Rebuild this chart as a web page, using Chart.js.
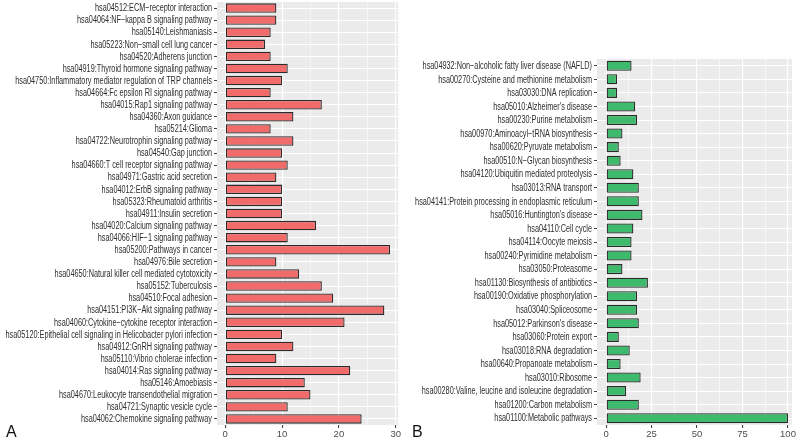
<!DOCTYPE html>
<html>
<head>
<meta charset="utf-8">
<script src="https://cdn.jsdelivr.net/npm/chart.js@4/dist/chart.umd.min.js"></script>
<style>
  body { margin: 0; background: #fff; }
  #wrap { position: relative; width: 800px; height: 443px; overflow: hidden; }
  .panel { position: absolute; top: 0; height: 443px; }
  .tag { position: absolute; font-family: "Liberation Sans", Arial, sans-serif; font-size: 16px; color: #111; }
</style>
</head>
<body>
<div id="wrap">
  <div class="panel" style="left:0;width:402px"><canvas id="chart-a"></canvas></div>
  <div class="panel" style="left:400px;width:400px"><canvas id="chart-b"></canvas></div>
  <div class="tag" style="left:6px;top:423px">A</div>
  <div class="tag" style="left:412px;top:423px">B</div>
</div>
<script>
// Panel A: pathways, top to bottom
const pathwaysA = [
    'hsa04512:ECM\u2212receptor interaction',
    'hsa04064:NF\u2212kappa B signaling pathway',
    'hsa05140:Leishmaniasis',
    'hsa05223:Non\u2212small cell lung cancer',
    'hsa04520:Adherens junction',
    'hsa04919:Thyroid hormone signaling pathway',
    'hsa04750:Inflammatory mediator regulation of TRP channels',
    'hsa04664:Fc epsilon RI signaling pathway',
    'hsa04015:Rap1 signaling pathway',
    'hsa04360:Axon guidance',
    'hsa05214:Glioma',
    'hsa04722:Neurotrophin signaling pathway',
    'hsa04540:Gap junction',
    'hsa04660:T cell receptor signaling pathway',
    'hsa04971:Gastric acid secretion',
    'hsa04012:ErbB signaling pathway',
    'hsa05323:Rheumatoid arthritis',
    'hsa04911:Insulin secretion',
    'hsa04020:Calcium signaling pathway',
    'hsa04066:HIF\u22121 signaling pathway',
    'hsa05200:Pathways in cancer',
    'hsa04976:Bile secretion',
    'hsa04650:Natural killer cell mediated cytotoxicity',
    'hsa05152:Tuberculosis',
    'hsa04510:Focal adhesion',
    'hsa04151:PI3K\u2212Akt signaling pathway',
    'hsa04060:Cytokine\u2212cytokine receptor interaction',
    'hsa05120:Epithelial cell signaling in Helicobacter pylori infection',
    'hsa04912:GnRH signaling pathway',
    'hsa05110:Vibrio cholerae infection',
    'hsa04014:Ras signaling pathway',
    'hsa05146:Amoebiasis',
    'hsa04670:Leukocyte transendothelial migration',
    'hsa04721:Synaptic vesicle cycle',
    'hsa04062:Chemokine signaling pathway',
];
const countsA = [9, 9, 8, 7, 8, 11, 10, 8, 17, 12, 8, 12, 10, 11, 9, 10, 10, 10, 16, 11,
    29, 9, 13, 17, 19, 28, 21, 10, 12, 9, 22, 14, 15, 11, 24];
const ticksA = [0, 10, 20, 30];

// Panel B
const pathwaysB = [
    'hsa04932:Non\u2212alcoholic fatty liver disease (NAFLD)',
    'hsa00270:Cysteine and methionine metabolism',
    'hsa03030:DNA replication',
    "hsa05010:Alzheimer's disease",
    'hsa00230:Purine metabolism',
    'hsa00970:Aminoacyl\u2212tRNA biosynthesis',
    'hsa00620:Pyruvate metabolism',
    'hsa00510:N\u2212Glycan biosynthesis',
    'hsa04120:Ubiquitin mediated proteolysis',
    'hsa03013:RNA transport',
    'hsa04141:Protein processing in endoplasmic reticulum',
    "hsa05016:Huntington's disease",
    'hsa04110:Cell cycle',
    'hsa04114:Oocyte meiosis',
    'hsa00240:Pyrimidine metabolism',
    'hsa03050:Proteasome',
    'hsa01130:Biosynthesis of antibiotics',
    'hsa00190:Oxidative phosphorylation',
    'hsa03040:Spliceosome',
    "hsa05012:Parkinson's disease",
    'hsa03060:Protein export',
    'hsa03018:RNA degradation',
    'hsa00640:Propanoate metabolism',
    'hsa03010:Ribosome',
    'hsa00280:Valine, leucine and isoleucine degradation',
    'hsa01200:Carbon metabolism',
    'hsa01100:Metabolic pathways',
];
const countsB = [14, 6, 6, 16, 17, 9, 7, 8, 15, 18, 18, 20, 15, 14, 14, 9, 23, 17, 17, 18,
    7, 13, 8, 19, 11, 18, 100];
const ticksB = [0, 25, 50, 75, 100];

const panelBg = {
    id: 'panelBg',
    beforeDraw(chart) {
        const a = chart.chartArea;
        const c = chart.ctx;
        c.save();
        c.fillStyle = '#ebebeb';
        c.fillRect(a.left, a.top, a.right - a.left, a.bottom - a.top);
        c.restore();
    }
};

// narrow (condensed) category labels, drawn at the y scale's tick positions
const narrowLabels = {
    id: 'narrowLabels',
    afterDraw(chart) {
        const y = chart.scales.y;
        const c = chart.ctx;
        const right = y.right - 5;
        c.save();
        c.font = '10px "Liberation Sans", Arial, sans-serif';
        c.fillStyle = '#2e2e2e';
        c.textAlign = 'right';
        c.textBaseline = 'middle';
        chart.data.labels.forEach((lab, i) => {
            const py = y.getPixelForValue(i);
            c.save();
            c.translate(right, py + 0.5);
            c.scale(0.73, 1);
            c.fillText(lab, 0, 0);
            c.restore();
        });
        c.restore();
    }
};

function makeChart(id, labels, values, majors, step, min, max, fill, barPct, yWidth, pad) {
    return new Chart(document.getElementById(id), {
        type: 'bar',
        data: {
            labels: labels,
            datasets: [{
                data: values,
                backgroundColor: fill,
                borderColor: '#2b2b2b',
                borderWidth: 1.3,
                borderSkipped: false,
                barPercentage: barPct,
                categoryPercentage: 1,
            }]
        },
        options: {
            indexAxis: 'y',
            responsive: true,
            maintainAspectRatio: false,
            animation: false,
            layout: { padding: pad },
            scales: {
                x: {
                    min: min,
                    max: max,
                    afterFit: s => { s.height = 18; },
                    border: { display: false },
                    grid: {
                        color: '#ffffff',
                        lineWidth: c => majors.includes(c.tick.value) ? 1.1 : 0.5,
                        tickColor: c => majors.includes(c.tick.value) ? '#444' : 'rgba(0,0,0,0)',
                        tickLength: 3,
                    },
                    ticks: {
                        stepSize: step,
                        includeBounds: false,
                        autoSkip: false,
                        maxRotation: 0,
                        padding: 1,
                        color: '#4d4d4d',
                        font: { family: 'Liberation Sans', size: 9.5 },
                        callback: v => majors.includes(v) ? v : '',
                    }
                },
                y: {
                    afterFit: s => { s.width = yWidth; },
                    border: { display: false },
                    grid: {
                        offset: false,
                        color: '#ffffff',
                        lineWidth: 1,
                        tickColor: '#444',
                        tickLength: 3,
                    },
                    ticks: { display: false, autoSkip: false }
                }
            },
            plugins: {
                legend: { display: false },
                tooltip: { enabled: false },
            }
        },
        plugins: [panelBg, narrowLabels]
    });
}

makeChart('chart-a', pathwaysA, countsA, ticksA, 5, -1.45, 30.45, '#f26b6b', 0.78, 217,
    { top: 2, right: 0, bottom: 0, left: 0 });
makeChart('chart-b', pathwaysB, countsB, ticksB, 12.5, -5, 102.2, '#3dba6c', 0.74, 197,
    { top: 59, right: 8, bottom: 0, left: 0 });
</script>
</body>
</html>
